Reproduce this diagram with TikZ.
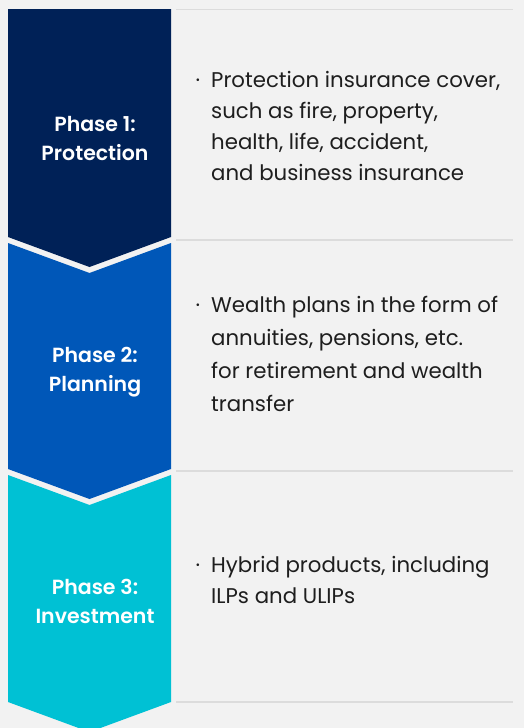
\documentclass[tikz,border=0pt]{standalone}
\usepackage{fontspec}
\setmainfont{Poppins}
\newfontfamily\phasefont{Poppins}[UprightFont=* SemiBold]
\usetikzlibrary{positioning}
\definecolor{cbg}{HTML}{F2F2F2}
\definecolor{cone}{HTML}{002157}
\definecolor{ctwo}{HTML}{0057B8}
\definecolor{cthree}{HTML}{00C1D4}
\definecolor{crule}{HTML}{DCDCDC}
\definecolor{ctext}{HTML}{1E1E1E}
\newcommand{\dotitem}{\llap{·\hspace{11pt}}}

\begin{document}
\begin{tikzpicture}[x=1pt, y=-1pt,
  phase/.style={font=\fontsize{20.5}{29}\selectfont\phasefont, text=white, align=center, inner sep=0pt},
  item/.style={font=\fontsize{21.3}{#1}\selectfont, text=ctext, align=left, anchor=base west, inner sep=0pt},
  item/.default=31,
  sep/.style={draw=crule, line width=1.6pt},
]
\clip (0,0) rectangle (524,728);
\fill[cbg] (0,0) rectangle (524,728);

% ------------------------------------------------------------ chevrons
\fill[cone] (8,9) -- (171,9) -- (171,237) -- (89.5,267) -- (8,237) -- cycle;
\fill[ctwo] (8,243) -- (89.5,273) -- (171,243) -- (171,469) -- (89.5,499) -- (8,469) -- cycle;
\fill[cthree] (8,475) -- (89.5,505) -- (171,475) -- (171,702) -- (89.5,732) -- (8,702) -- cycle;

\node[phase] (lblone) at (95,139) {Phase 1:\\Protection};
\node[phase] (lbltwo) at (95,372) {Phase 2:\\Planning};
\node[phase] (lblthree) at (95,601.5) {Phase 3:\\Investment};

% ------------------------------------------------------------ rules
\draw[sep] (176,9.5) -- (513,9.5);
\draw[sep] (176,240) -- (513,240);
\draw[sep] (176,471) -- (513,471);
\draw[sep] (176,702) -- (513,702);

% ------------------------------------------------------------ items (anchored at last baseline)
\node[item] (itemone) at (211,180) {\dotitem Protection insurance cover,\\
  such as fire, property,\\ health, life, accident,\\ and business insurance};
\node[item=33] (itemtwo) at (211,411.5) {\dotitem Wealth plans in the form of\\
  annuities, pensions, etc.\\ for retirement and wealth\\ transfer};
\node[item] (itemthree) at (211,603) {\dotitem Hybrid products, including\\
  ILPs and ULIPs};
\end{tikzpicture}
\end{document}
